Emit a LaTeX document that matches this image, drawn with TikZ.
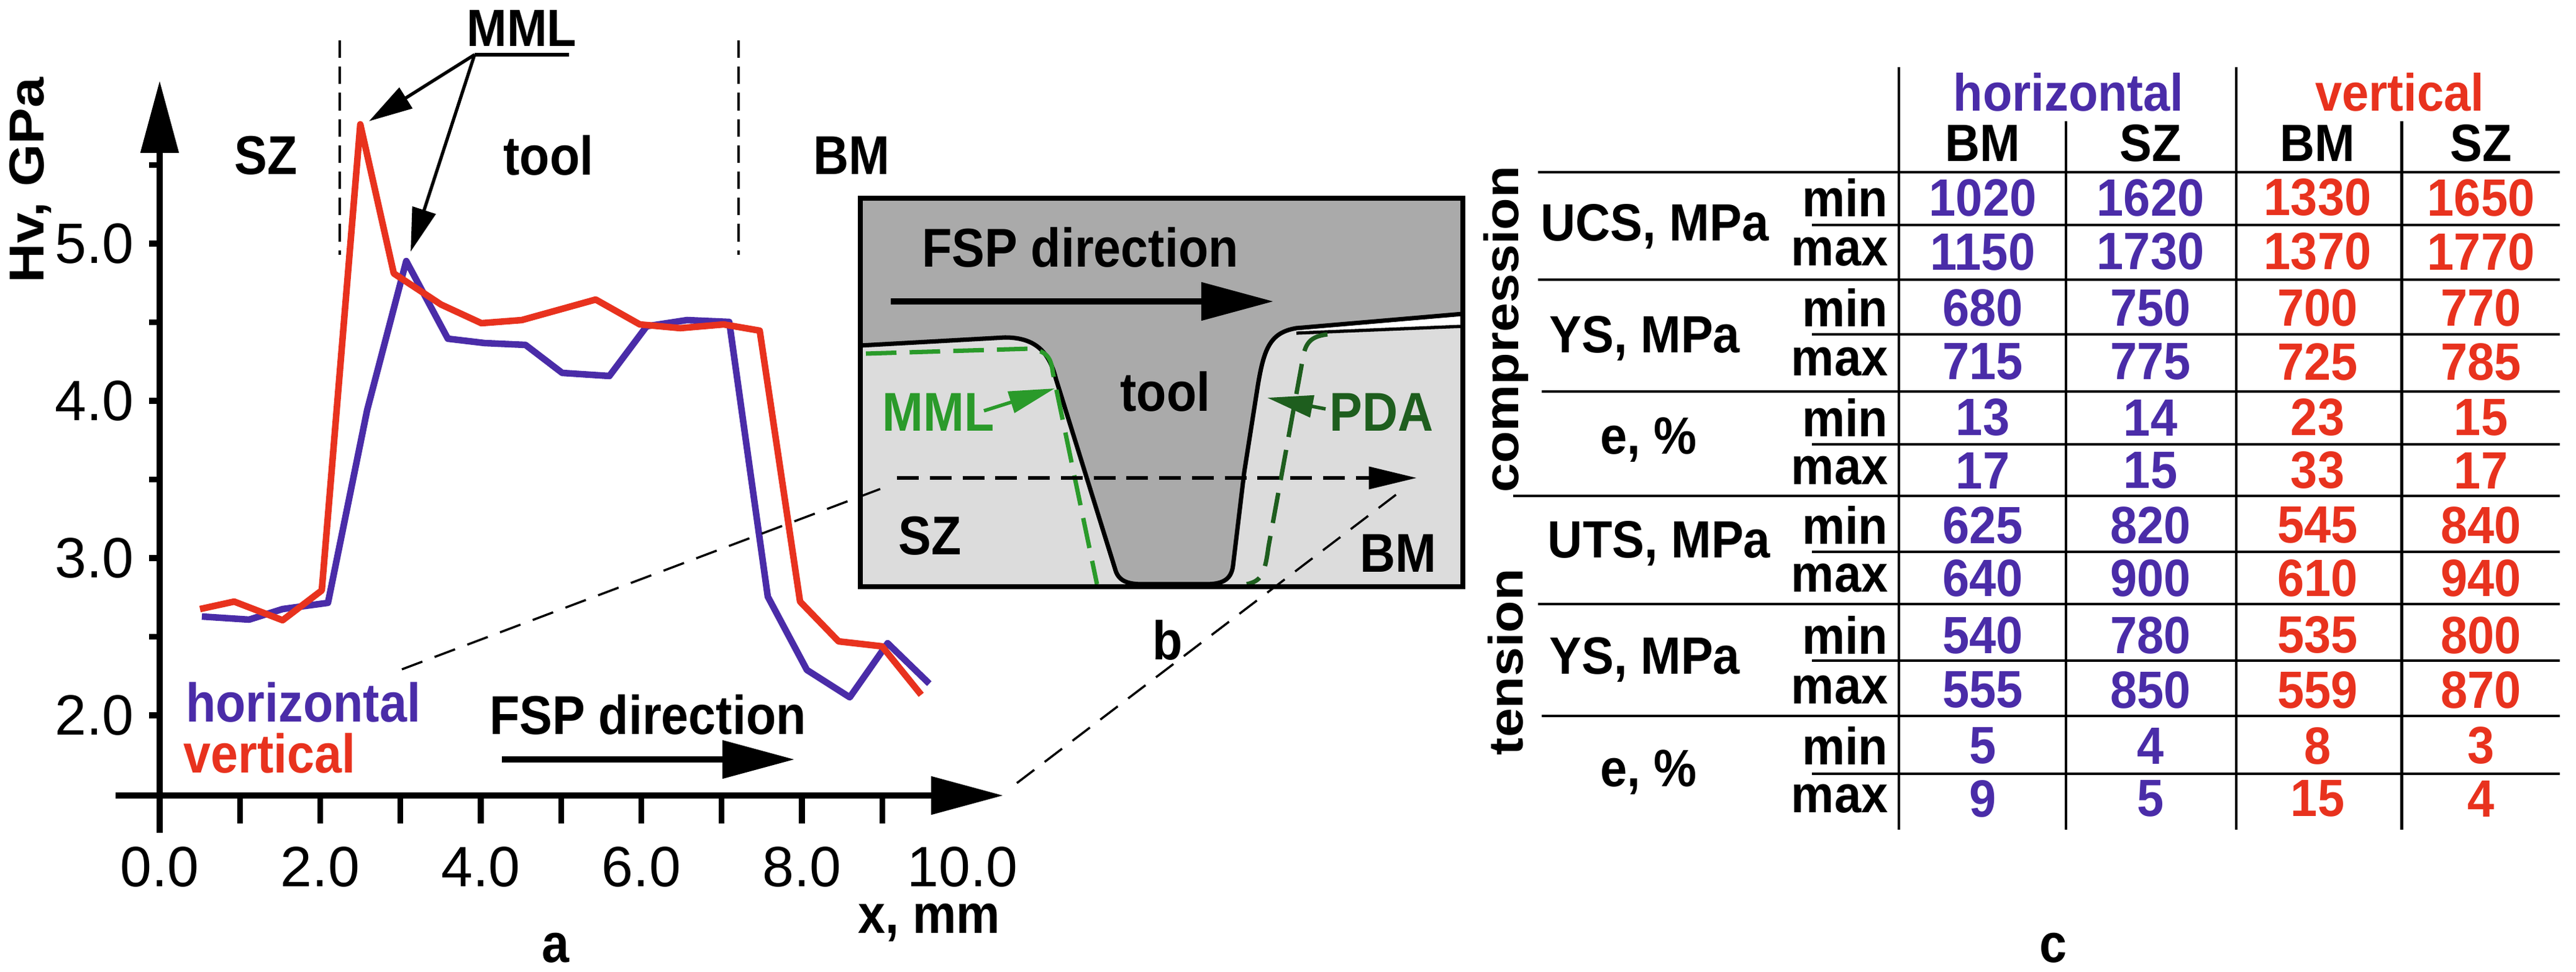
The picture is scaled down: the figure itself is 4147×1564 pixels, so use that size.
\documentclass[tikz,border=0pt]{standalone}
\usepackage{fontspec}
\setmainfont{Liberation Sans}
\usetikzlibrary{arrows.meta}
\definecolor{hb}{HTML}{4A2CA8}
\definecolor{vr}{HTML}{E8321E}
\definecolor{gm}{HTML}{2A9A2A}
\definecolor{gp}{HTML}{1E5E1E}
\definecolor{dk}{HTML}{AAAAAA}
\definecolor{lt}{HTML}{DCDCDC}
\begin{document}
\begin{tikzpicture}[x=0.01cm,y=-0.01cm,
  lab/.style={font=\fontsize{25}{28}\selectfont\bfseries, inner sep=0pt, xscale=0.9},
  big/.style={font=\fontsize{24}{28}\selectfont\bfseries, inner sep=0pt, xscale=0.92},
  tk/.style={font=\fontsize{26}{30}\selectfont, inner sep=0pt},
  hv/.style={big, text=hb}, vv/.style={big, text=vr},
  bigtip/.style={-{Triangle[length=33pt,width=17pt]}},
  ax/.style={line width=2.6pt},
  cur/.style={line width=3pt, line join=round},
  zl/.style={dash pattern=on 10pt off 6pt, line width=1pt},
  tl/.style={line width=1.4pt}]
\useasboundingbox (0,0) rectangle (4147,1564);
% axes
\coordinate (xa0) at (186,1280); \coordinate (xa1) at (1615,1280);
\coordinate (ya0) at (257,1340); \coordinate (ya1) at (257,130);
\draw[ax,bigtip] (xa0) -- (xa1);
\draw[ax,bigtip] (ya0) -- (ya1);
\foreach \k in {1,...,9} \draw[ax] (257+129.25*\k,1280) -- (257+129.25*\k,1325);
\foreach \k/\t in {0/0.0,2/2.0,4/4.0,6/6.0,8/8.0,10/10.0} \node[tk] (xt\k) at (257+129.25*\k,1395) {\t};
\foreach \v in {265.5,392,518.5,645,771.5,898,1024.5,1151} \draw[ax] (240,\v) -- (257,\v);
\foreach \v/\t in {392/5.0,645/4.0,898/3.0,1151/2.0} \node[tk] (yt\t) at (152,\v) {\t};
\node[lab,rotate=90] (yl) at (49,290) {Hv, GPa};
\node[lab] (xl) at (1496,1485) {x, mm};
\node[lab] (la) at (894,1525) {a};
% zones
\draw[dash pattern=on 8pt off 4pt, line width=1.2pt] (547,65) -- (547,410) (1189,65) -- (1189,410);
\node[lab] (sz) at (428,250) {SZ};
\node[lab] (tool) at (883,250) {tool};
\node[lab] (bm) at (1371,250) {BM};
\node[big] (mml) at (840,45) {MML};
\coordinate (mu) at (764,88);
\draw[line width=1.5pt] (mu) -- (916,88);
\draw[line width=1.5pt,-{Triangle[length=20pt,width=11pt]}] (mu) -- (594,195);
\draw[line width=1.5pt,-{Triangle[length=20pt,width=11pt]}] (mu) -- (661,405);
% curves
\draw[cur,hb] (325,992)--(401,997)--(455,980)--(528,970)--(591,660)--(654,420)--(721,545)--(780,552)--(846,555)--(905,600)--(981,605)--(1041,525)--(1106,515)--(1174,518)--(1236,960)--(1299,1078)--(1368,1122)--(1429,1035)--(1496,1100);
\draw[cur,vr] (322,980)--(377,968)--(455,998)--(518,950)--(580,200)--(634,440)--(710,490)--(775,520)--(840,515)--(959,482)--(1030,522)--(1095,528)--(1165,522)--(1223,532)--(1288,968)--(1350,1032)--(1420,1040)--(1483,1118);
\node[lab,text=hb] (lh) at (488,1130) {horizontal};
\node[lab,text=vr] (lv) at (434,1212) {vertical};
\node[lab] (fsp) at (1043,1150) {FSP direction};
\coordinate (fa0) at (808,1222); \coordinate (fa1) at (1279,1222);
\draw[ax,bigtip] (fa0) -- (fa1);
% inset
\fill[lt] (1385,319) rectangle (2355,944);
\fill[dk] (1385,319) -- (2355,319) -- (2355,505) -- (2087,528) .. controls (2045,535) and (2035,560) .. (2025,620) -- (2003,760) -- (1985,910) .. controls (1982,935) and (1965,940) .. (1940,940) -- (1840,940) .. controls (1815,940) and (1800,935) .. (1795,915) -- (1700,610) .. controls (1690,570) and (1670,543) .. (1618,543) -- (1385,556) -- cycle;
\fill[white] (2087,528) -- (2355,507) -- (2355,525) -- (2087,536) -- cycle;
\draw[line width=2pt] (1385,556) -- (1618,543) .. controls (1670,543) and (1690,570) .. (1700,610) -- (1795,915) .. controls (1800,935) and (1815,940) .. (1840,940) -- (1940,940) .. controls (1965,940) and (1982,935) .. (1985,910) -- (2003,760) -- (2025,620) .. controls (2035,560) and (2045,535) .. (2087,528) -- (2355,505);
\draw[line width=1.5pt] (2087,536) -- (2355,525);
\draw[gm,line width=2pt,dash pattern=on 14pt off 6pt] (1394,569) -- (1658,561) .. controls (1685,565) and (1692,575) .. (1695,600) -- (1766,940);
\draw[gp,line width=2pt,dash pattern=on 14pt off 6pt] (2137,538) .. controls (2105,542) and (2100,555) .. (2095,590) -- (2042,880) .. controls (2036,925) and (2030,935) .. (2007,940);
\draw[line width=2.4pt] (1385,319) rectangle (2355,944);
\node[lab] (ifsp) at (1739,398) {FSP direction};
\coordinate (ia0) at (1434,485); \coordinate (ia1) at (2050,485);
\draw[ax,bigtip] (ia0) -- (ia1);
\node[lab] (itool) at (1876,630) {tool};
\node[lab,text=gm] (imml) at (1511,663) {MML};
\draw[gm,line width=1.6pt,-{Triangle[length=21pt,width=10pt]}] (1584,661) -- (1698,625);
\node[lab,text=gp] (ipda) at (2224,663) {PDA};
\draw[gp,line width=1.6pt,-{Triangle[length=21pt,width=10pt]}] (2134,658) -- (2040,640);
\coordinate (da0) at (1444,769); \coordinate (da1) at (2281,769);
\draw[line width=1.8pt,dash pattern=on 10pt off 5pt,-{Triangle[length=22pt,width=10pt]}] (da0) -- (da1);
\node[lab] (isz) at (1497,862) {SZ};
\node[lab] (ibm) at (2251,890) {BM};
\node[lab] (lb) at (1880,1030) {b};
% zoom lines
\draw[zl] (647,1077) -- (1427,783);
\draw[zl] (1637,1260) -- (2254,791);
% table
\draw[tl] (3057,108) -- (3057,1335) (3600,108) -- (3600,1335);
\draw[tl] (3326,195) -- (3326,1335) (3866,195) -- (3866,1335);
\foreach \y/\xs in {277/2476,450/2476,630/2482,798/2436,972/2476,1152/2482} \draw[tl] (\xs,\y) -- (4121,\y);
\foreach \y in {362,538,715,888,1063,1245} \draw[tl] (2917,\y) -- (4121,\y);
\node[hv] (th) at (3330,148) {horizontal};
\node[vv] (tv) at (3863,148) {vertical};
\foreach \x/\n in {3192/a,3731/c} \node[big] (bm\n) at (\x,230) {BM};
\foreach \x/\n in {3462/b,3994/d} \node[big] (sz\n) at (\x,230) {SZ};
\foreach \y/\t in {318/min,405/max,495/min,582/max,672/min,757/max,845/min,930/max,1022/min,1110/max,1200/min,1285/max}
  \node[big,anchor=east] at (3040,\y) {\t};
\node[big,anchor=west] (r1) at (2480,365) {UCS, MPa};
\node[big] (r2) at (2648,545) {YS, MPa};
\node[big] (r3) at (2654,708) {e, \%};
\node[big] (r4) at (2671,875) {UTS, MPa};
\node[big] (r5) at (2648,1062) {YS, MPa};
\node[big] (r6) at (2654,1243) {e, \%};
\node[big,rotate=90] (comp) at (2424,530) {compression};
\node[big,rotate=90] (tens) at (2424,1065) {tension};
\foreach \y/\a/\b/\c/\d in {318/1020/1620/1330/1650,405/1150/1730/1370/1770,495/680/750/700/770,582/715/775/725/785,672/13/14/23/15,757/17/15/33/17,845/625/820/545/840,930/640/900/610/940,1022/540/780/535/800,1110/555/850/559/870,1200/5/4/8/3,1285/9/5/15/4}{
  \node[hv] at (3192,\y) {\a}; \node[hv] at (3462,\y) {\b};
  \node[vv] at (3731,\y) {\c}; \node[vv] at (3994,\y) {\d};}
\node[lab] (lc) at (3305,1525) {c};
\end{tikzpicture}
\end{document}
